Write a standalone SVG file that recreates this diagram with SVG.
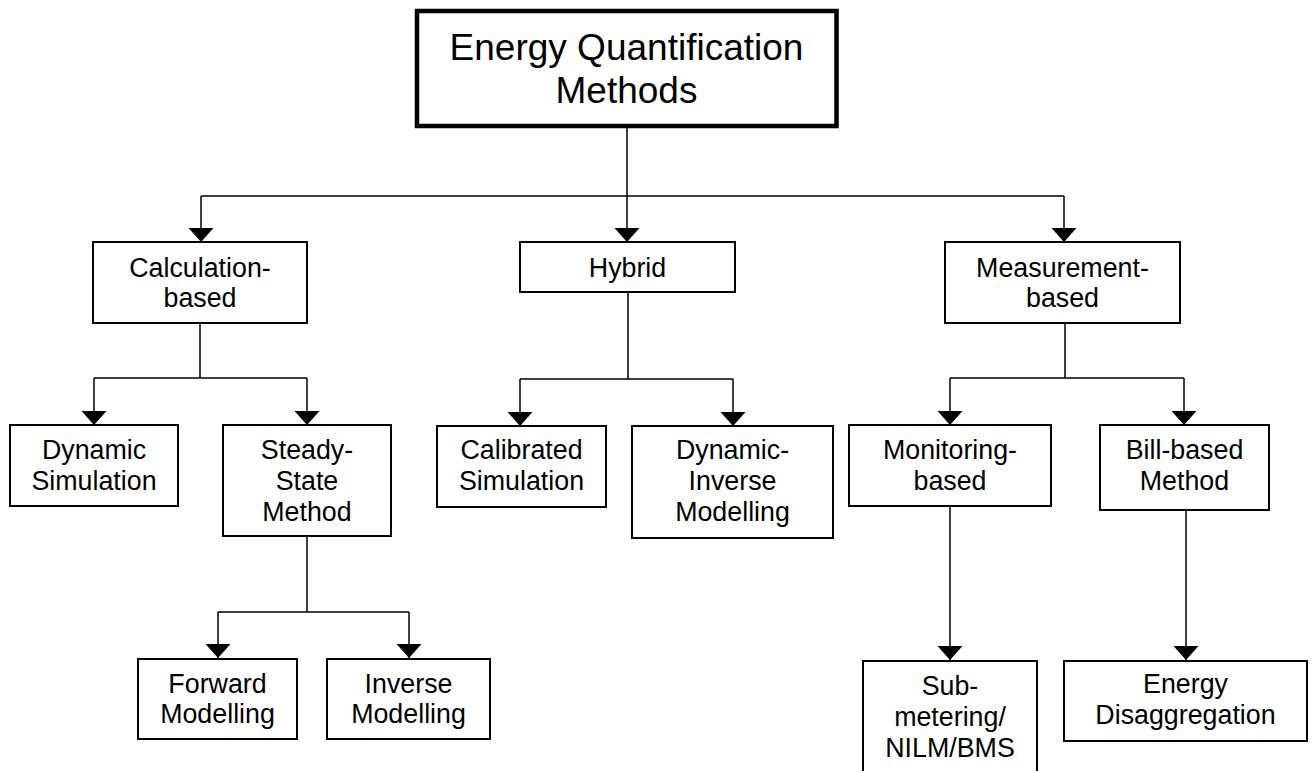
<svg xmlns="http://www.w3.org/2000/svg" width="1314" height="771" viewBox="0 0 1314 771">
  <style>
    .box { fill: #ffffff; stroke: #000000; stroke-width: 2; }
    .root { fill: #ffffff; stroke: #000000; stroke-width: 4.5; }
    .lbl { font-family: "Liberation Sans", Arial, sans-serif; font-size: 26.8px; fill: #000000; text-anchor: middle; }
    .title { font-family: "Liberation Sans", Arial, sans-serif; font-size: 37px; fill: #000000; text-anchor: middle; }
    .wire { fill: none; stroke: #000000; stroke-width: 1.5; }
    .arrow { fill: none; stroke: #000000; stroke-width: 1.5; marker-end: url(#head); }
  </style>
  <defs>
    <marker id="head" markerUnits="userSpaceOnUse" viewBox="0 -13 14 26" markerWidth="14" markerHeight="26" refX="14" refY="0" orient="auto">
      <path d="M0,-12.5 L14,0 L0,12.5 z" fill="#000000"/>
    </marker>
  </defs>

  <rect width="1314" height="771" fill="#ffffff"/>

  <!-- connectors -->
  <g id="connectors">
    <!-- root to first level -->
    <path class="wire" d="M627,128 V196 M201,196 H1064"/>
    <path class="arrow" d="M201,196 V242"/>
    <path class="arrow" d="M627,196 V242"/>
    <path class="arrow" d="M1064,196 V242"/>
    <!-- calculation-based -->
    <path class="wire" d="M200,323 V378 M94,378 H307"/>
    <path class="arrow" d="M94,378 V425"/>
    <path class="arrow" d="M307,378 V425"/>
    <!-- steady-state -->
    <path class="wire" d="M307,536 V612 M218,612 H409"/>
    <path class="arrow" d="M218,612 V658"/>
    <path class="arrow" d="M409,612 V658"/>
    <!-- hybrid -->
    <path class="wire" d="M628,292 V379 M520,379 H733"/>
    <path class="arrow" d="M520,379 V426"/>
    <path class="arrow" d="M733,379 V426"/>
    <!-- measurement-based -->
    <path class="wire" d="M1065,323 V378 M950,378 H1184"/>
    <path class="arrow" d="M950,378 V425"/>
    <path class="arrow" d="M1184,378 V425"/>
    <!-- monitoring / bill -->
    <path class="arrow" d="M950,506 V660"/>
    <path class="arrow" d="M1186,510 V660"/>
  </g>

  <g id="root">
    <rect class="root" x="417" y="11" width="419.5" height="115"/>
    <text class="title" x="626.5" y="60">Energy Quantification</text>
    <text class="title" x="626.5" y="103">Methods</text>
  </g>

  <g id="calculation">
    <rect class="box" x="93" y="242" width="214" height="81"/>
    <text class="lbl" x="200" y="277">Calculation-</text>
    <text class="lbl" x="200" y="307">based</text>
  </g>

  <g id="hybrid">
    <rect class="box" x="520" y="242" width="215" height="50"/>
    <text class="lbl" x="627.5" y="277">Hybrid</text>
  </g>

  <g id="measurement">
    <rect class="box" x="945" y="242" width="235" height="81"/>
    <text class="lbl" x="1062.5" y="277">Measurement-</text>
    <text class="lbl" x="1062.5" y="307">based</text>
  </g>

  <g id="dynamic-simulation">
    <rect class="box" x="10" y="425" width="168" height="81"/>
    <text class="lbl" x="94" y="459">Dynamic</text>
    <text class="lbl" x="94" y="490">Simulation</text>
  </g>

  <g id="steady-state">
    <rect class="box" x="223" y="425" width="168" height="111"/>
    <text class="lbl" x="307" y="459">Steady-</text>
    <text class="lbl" x="307" y="490">State</text>
    <text class="lbl" x="307" y="521">Method</text>
  </g>

  <g id="calibrated-simulation">
    <rect class="box" x="437" y="426" width="169" height="81"/>
    <text class="lbl" x="521.5" y="459">Calibrated</text>
    <text class="lbl" x="521.5" y="490">Simulation</text>
  </g>

  <g id="dynamic-inverse">
    <rect class="box" x="632" y="426" width="201" height="112"/>
    <text class="lbl" x="732.5" y="459">Dynamic-</text>
    <text class="lbl" x="732.5" y="490">Inverse</text>
    <text class="lbl" x="732.5" y="521">Modelling</text>
  </g>

  <g id="monitoring-based">
    <rect class="box" x="849" y="425" width="202" height="81"/>
    <text class="lbl" x="950" y="459">Monitoring-</text>
    <text class="lbl" x="950" y="490">based</text>
  </g>

  <g id="bill-based">
    <rect class="box" x="1100" y="425" width="169" height="85"/>
    <text class="lbl" x="1184.5" y="459">Bill-based</text>
    <text class="lbl" x="1184.5" y="490">Method</text>
  </g>

  <g id="forward-modelling">
    <rect class="box" x="138" y="659" width="159" height="80"/>
    <text class="lbl" x="217.5" y="693">Forward</text>
    <text class="lbl" x="217.5" y="723">Modelling</text>
  </g>

  <g id="inverse-modelling">
    <rect class="box" x="327" y="659" width="163" height="80"/>
    <text class="lbl" x="408.5" y="693">Inverse</text>
    <text class="lbl" x="408.5" y="723">Modelling</text>
  </g>

  <g id="sub-metering">
    <rect class="box" x="863" y="661" width="174" height="130"/>
    <text class="lbl" x="950" y="695">Sub-</text>
    <text class="lbl" x="950" y="726">metering/</text>
    <text class="lbl" x="950" y="757">NILM/BMS</text>
  </g>

  <g id="energy-disaggregation">
    <rect class="box" x="1064" y="661" width="243" height="80"/>
    <text class="lbl" x="1185.5" y="693">Energy</text>
    <text class="lbl" x="1185.5" y="724">Disaggregation</text>
  </g>
</svg>
